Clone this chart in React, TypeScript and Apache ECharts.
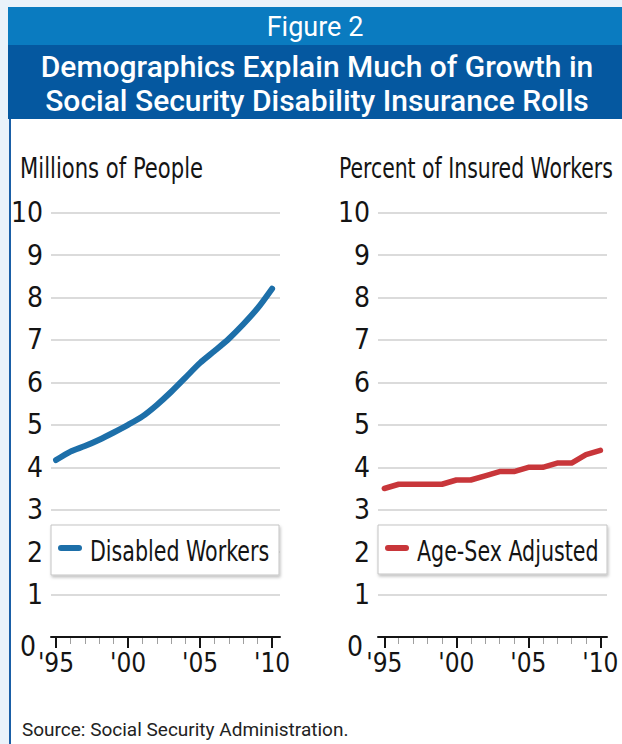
import React, { useEffect, useRef } from "react";
import * as echarts from "echarts";

const years = [1995, 1996, 1997, 1998, 1999, 2000, 2001, 2002, 2003, 2004, 2005, 2006, 2007, 2008, 2009, 2010];
const disabledWorkers = [4.17, 4.37, 4.5, 4.65, 4.82, 5.0, 5.2, 5.47, 5.78, 6.12, 6.46, 6.74, 7.03, 7.37, 7.75, 8.21];
const ageSexAdjusted = [3.5, 3.6, 3.6, 3.6, 3.6, 3.7, 3.7, 3.8, 3.9, 3.9, 4.0, 4.0, 4.1, 4.1, 4.3, 4.4];
const majorYears = [1995, 2000, 2005, 2010];
const seriesNames = ["Disabled Workers", "Age-Sex Adjusted"];
const axisTitles = ["Millions of People", "Percent of Insured Workers"];
const figureLabel = "Figure 2";
const titleLines = ["Demographics Explain Much of Growth in", "Social Security Disability Insurance Rolls"];
const sourceText = "Source: Social Security Administration.";

const NARROW = '"DejaVu Sans Condensed", "Liberation Sans Narrow", sans-serif';
const SANS = 'Roboto, "Noto Sans", sans-serif';
const BLUE = "#1d6fa9";
const RED = "#c8363a";
const INK = "#141414";

export default function App() {
  const ref = useRef<HTMLDivElement>(null);
  useEffect(() => {
    const chart = echarts.init(ref.current!, null, { renderer: "svg" });
    const gridTop = 212.7;
    const gridH = 424.3;
    const grids = [
      { left: 51, top: gridTop, width: 229, height: gridH },
      { left: 378, top: gridTop, width: 229, height: gridH },
    ];
    const ranges = [
      [1994.65, 2010.55],
      [1994.56, 2010.46],
    ];
    const xAxes: any[] = [];
    const yAxes: any[] = [];
    [0, 1].forEach((g) => {
      xAxes.push({
        type: "value",
        gridIndex: g,
        position: "bottom",
        offset: 0,
        min: ranges[g][0],
        max: ranges[g][1],
        axisLine: { show: true, onZero: false, lineStyle: { color: INK, width: 2 } },
        axisTick: { show: true, customValues: majorYears, length: 11, lineStyle: { color: INK, width: 2 } },
        axisLabel: {
          show: true,
          customValues: majorYears,
          margin: 13,
          fontSize: 26,
          fontFamily: NARROW,
          color: INK,
          formatter: (v: number) => "'" + String(v).slice(2),
        },
        splitLine: { show: false },
        z: 3,
      });
      xAxes.push({
        type: "value",
        gridIndex: g,
        position: "bottom",
        offset: 0,
        min: ranges[g][0],
        max: ranges[g][1],
        axisLine: { show: false, onZero: false },
        axisTick: { show: true, customValues: years, length: 7, lineStyle: { color: "#a0a0a0", width: 1 } },
        axisLabel: { show: false },
        splitLine: { show: false },
        z: 2,
      });
      yAxes.push({
        type: "value",
        gridIndex: g,
        min: 0,
        max: 10,
        interval: 1,
        axisLine: { show: false },
        axisTick: { show: false },
        splitLine: { show: true, lineStyle: { color: "#cfcfcf", width: 1.5 } },
        axisLabel: {
          margin: 8,
          fontSize: 28,
          fontFamily: NARROW,
          color: INK,
          formatter: (v: number) => (v === 0 ? "{z|0}" : String(v)),
          rich: { z: { padding: [18, 7, 0, 0], fontSize: 28, fontFamily: NARROW, color: INK } },
        },
      });
    });

    const legendBoxes = [
      { x: 51, y: 525, w: 228, h: 50, iconX: 58, textX: 90, color: BLUE, name: seriesNames[0] },
      { x: 378, y: 525, w: 229, h: 49, iconX: 385, textX: 417, color: RED, name: seriesNames[1] },
    ];
    const legendGraphics: any[] = [];
    legendBoxes.forEach((b) => {
      legendGraphics.push({
        type: "rect",
        z: 10,
        shape: { x: b.x, y: b.y, width: b.w, height: b.h },
        style: { fill: "#ffffff", stroke: "#c4c4c4", lineWidth: 1, shadowBlur: 3, shadowOffsetX: 1, shadowOffsetY: 2, shadowColor: "rgba(0,0,0,0.25)" },
      });
      legendGraphics.push({
        type: "rect",
        z: 11,
        shape: { x: b.iconX, y: 545, width: 24, height: 6, r: 3 },
        style: { fill: b.color },
      });
      legendGraphics.push({
        type: "text",
        z: 11,
        x: b.textX,
        y: 551,
        scaleX: 0.79,
        style: { text: b.name, fill: INK, font: `29px ${NARROW}`, align: "left", verticalAlign: "middle" },
      });
    });

    const option: any = {
      animation: false,
      backgroundColor: "#eaf2fa",
      grid: grids,
      xAxis: xAxes,
      yAxis: yAxes,
      series: [
        {
          name: seriesNames[0],
          type: "line",
          xAxisIndex: 0,
          yAxisIndex: 0,
          data: years.map((y, i) => [y, disabledWorkers[i]]),
          smooth: 0.25,
          symbol: "none",
          itemStyle: { color: BLUE },
          lineStyle: { color: BLUE, width: 6, cap: "round", join: "round" },
        },
        {
          name: seriesNames[1],
          type: "line",
          xAxisIndex: 2,
          yAxisIndex: 1,
          data: years.map((y, i) => [y, ageSexAdjusted[i]]),
          symbol: "none",
          itemStyle: { color: RED },
          lineStyle: { color: RED, width: 5.5, cap: "round", join: "round" },
        },
      ],
      graphic: [
        { type: "rect", z: -10, shape: { x: 11, y: 119, width: 611, height: 625 }, style: { fill: "#ffffff" } },
        { type: "rect", z: -9, shape: { x: 8, y: 7, width: 614, height: 38 }, style: { fill: "#0a7bc0" } },
        { type: "rect", z: -9, shape: { x: 8, y: 45, width: 614, height: 74 }, style: { fill: "#0558a0" } },
        { type: "rect", z: -9, shape: { x: 9, y: 119, width: 2, height: 625 }, style: { fill: "#1a5ea6" } },
        {
          type: "text",
          z: 5,
          x: 315,
          y: 27,
          style: { text: figureLabel, fill: "#ffffff", font: `400 27px ${SANS}`, align: "center", verticalAlign: "middle" },
        },
        {
          type: "text",
          z: 5,
          x: 317,
          y: 66,
          style: { text: titleLines[0], fill: "#ffffff", font: `500 30px ${SANS}`, align: "center", verticalAlign: "middle" },
        },
        {
          type: "text",
          z: 5,
          x: 317,
          y: 100,
          style: { text: titleLines[1], fill: "#ffffff", font: `500 30px ${SANS}`, align: "center", verticalAlign: "middle" },
        },
        {
          type: "text",
          z: 5,
          x: 20,
          y: 168,
          scaleX: 0.84,
          style: { text: axisTitles[0], fill: INK, font: `28px ${NARROW}`, align: "left", verticalAlign: "middle" },
        },
        {
          type: "text",
          z: 5,
          x: 339,
          y: 168,
          scaleX: 0.81,
          style: { text: axisTitles[1], fill: INK, font: `28px ${NARROW}`, align: "left", verticalAlign: "middle" },
        },
        ...legendGraphics,
        {
          type: "text",
          z: 5,
          x: 22,
          y: 729,
          style: { text: sourceText, fill: "#222222", font: `19px ${SANS}`, align: "left", verticalAlign: "middle" },
        },
      ],
    };
    chart.setOption(option);
    return () => chart.dispose();
  }, []);
  return <div ref={ref} style={{ position: "absolute", left: 0, top: 0, width: 622, height: 744 }} />;
}
